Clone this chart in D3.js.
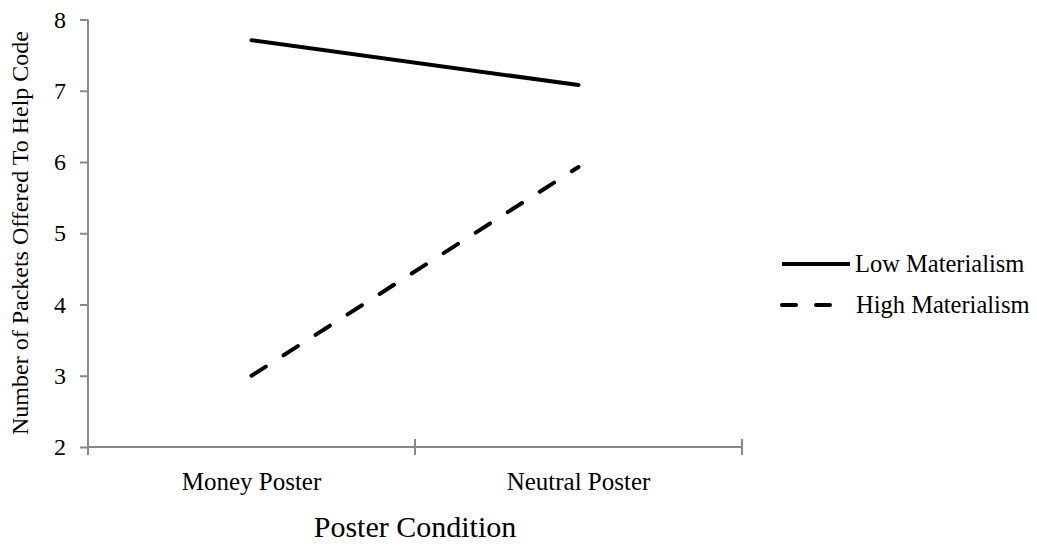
<!DOCTYPE html>
<html>
<head>
<meta charset="utf-8">
<script src="https://cdn.jsdelivr.net/npm/d3@7"></script>
<style>
  body { margin: 0; background: #fff; }
  svg text { font-family: "Liberation Serif", "Times New Roman", serif; fill: #000; }
</style>
</head>
<body>
<div id="chart"></div>
<script>
// Data
const conditions = ["Money Poster", "Neutral Poster"];
const seriesNames = ["Low Materialism", "High Materialism"];
const lowValues = [7.71, 7.08];
const highValues = [3.0, 5.93];
const yTicks = [2, 3, 4, 5, 6, 7, 8];

const W = 1037, H = 546;
const margin = { top: 19.5, right: 295, bottom: 99, left: 88 };

const svg = d3.select("#chart")
    .append("svg")
    .attr("width", W)
    .attr("height", H);

const x = d3.scaleBand()
    .domain(conditions)
    .range([margin.left, W - margin.right])
    .padding(0);

const y = d3.scaleLinear()
    .domain([2, 8])
    .range([H - margin.bottom, margin.top]);

const axisColor = "#888";

// Y axis
const yAxis = svg.append("g")
    .attr("transform", `translate(${margin.left},0)`)
    .call(d3.axisLeft(y).tickValues(yTicks).tickSize(8).tickPadding(14).tickFormat(d3.format("d")));
yAxis.select(".domain").attr("stroke", axisColor).attr("stroke-width", 2)
    .attr("d", `M0,${y(8)}V${y(2) + 8}`);
yAxis.selectAll(".tick line").attr("stroke", axisColor).attr("stroke-width", 2);
yAxis.selectAll(".tick text").style("font-size", "24px");

// X axis (ticks sit on category boundaries)
const xAxis = svg.append("g")
    .attr("transform", `translate(0,${y(2)})`)
    .call(d3.axisBottom(x).tickSize(0).tickPadding(25));
xAxis.select(".domain").attr("stroke", axisColor).attr("stroke-width", 2)
    .attr("d", `M${x.range()[0]},0H${x.range()[1]}`);
xAxis.selectAll(".tick text").style("font-size", "25px");

const bounds = conditions.map(c => x(c)).concat([x.range()[1]]);
xAxis.selectAll(".bound")
    .data(bounds)
    .join("line")
    .attr("class", "bound")
    .attr("x1", d => d).attr("x2", d => d)
    .attr("y1", (d, i) => i === 0 ? 0 : -8)
    .attr("y2", 8)
    .attr("stroke", axisColor)
    .attr("stroke-width", 2);

// Axis titles
svg.append("text")
    .attr("transform", `translate(28,233) rotate(-90)`)
    .attr("text-anchor", "middle")
    .style("font-size", "24px")
    .text("Number of Packets Offered To Help Code");

svg.append("text")
    .attr("x", (x.range()[0] + x.range()[1]) / 2)
    .attr("y", 537)
    .attr("text-anchor", "middle")
    .style("font-size", "30px")
    .text("Poster Condition");

// Lines
const line = d3.line()
    .x((d, i) => x(conditions[i]) + x.bandwidth() / 2)
    .y(d => y(d));

const dash = "17,21";

svg.append("path")
    .datum(lowValues)
    .attr("d", line)
    .attr("fill", "none")
    .attr("stroke", "#000")
    .attr("stroke-width", 4)
    .attr("stroke-linecap", "round");

svg.append("path")
    .datum(highValues)
    .attr("d", line)
    .attr("fill", "none")
    .attr("stroke", "#000")
    .attr("stroke-width", 4)
    .attr("stroke-linecap", "round")
    .attr("stroke-dasharray", dash);

// Legend
const legend = svg.append("g").attr("transform", "translate(782,264)");
seriesNames.forEach((name, i) => {
    const g = legend.append("g").attr("transform", `translate(0,${i * 41})`);
    g.append("line")
        .attr("x1", 0).attr("x2", i === 0 ? 68 : 56)
        .attr("y1", 0).attr("y2", 0)
        .attr("stroke", "#000")
        .attr("stroke-width", 4)
        .attr("stroke-linecap", i === 0 ? "butt" : "round")
        .attr("stroke-dasharray", i === 0 ? null : "14,20");
    g.append("text")
        .attr("x", i === 0 ? 73 : 74)
        .attr("y", 8)
        .style("font-size", "24.5px")
        .text(name);
});
</script>
</body>
</html>
